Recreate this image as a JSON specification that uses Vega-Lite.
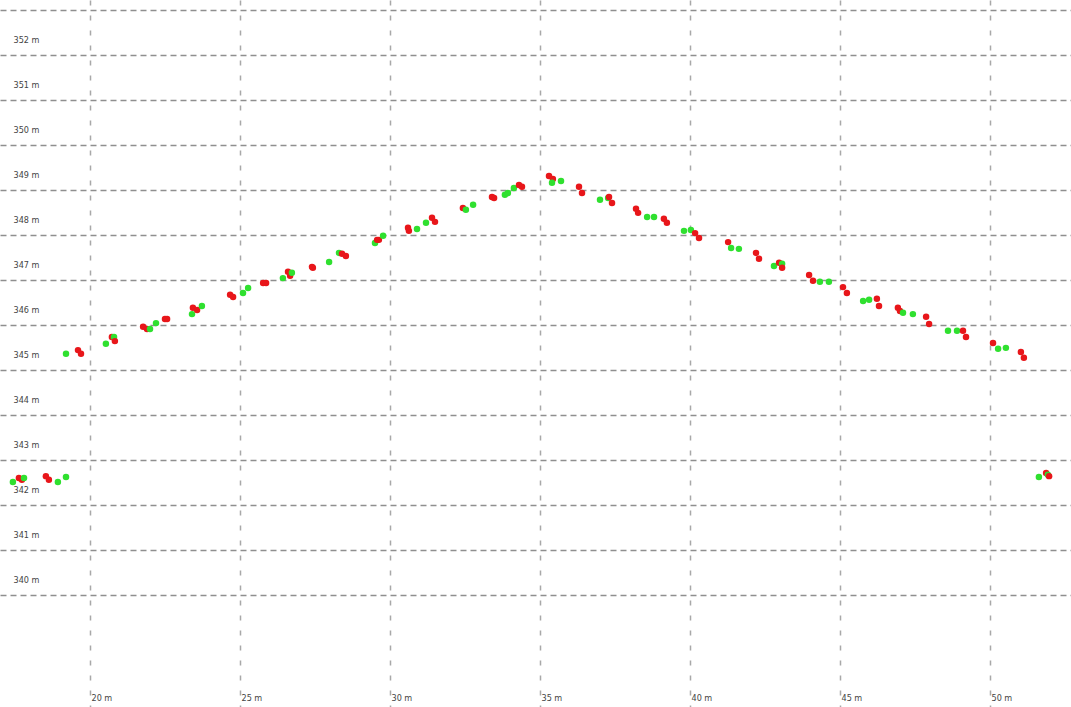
{
  "$schema": "https://vega.github.io/schema/vega-lite/v6.json",
  "autosize": {"type": "fit", "contains": "padding"},
  "width": 1071,
  "height": 707,
  "padding": 0,
  "background": "white",
  "config": {"view": {"stroke": null}},
  "data": {"values": [
    {"d": 17.43, "h": 342.51, "s": "g"},
    {"d": 17.63, "h": 342.60, "s": "r"},
    {"d": 17.73, "h": 342.56, "s": "r"},
    {"d": 17.80, "h": 342.60, "s": "g"},
    {"d": 18.53, "h": 342.64, "s": "r"},
    {"d": 18.63, "h": 342.56, "s": "r"},
    {"d": 18.93, "h": 342.51, "s": "g"},
    {"d": 19.20, "h": 342.62, "s": "g"},
    {"d": 19.20, "h": 345.36, "s": "g"},
    {"d": 19.60, "h": 345.44, "s": "r"},
    {"d": 19.70, "h": 345.36, "s": "r"},
    {"d": 20.53, "h": 345.58, "s": "g"},
    {"d": 20.73, "h": 345.73, "s": "r"},
    {"d": 20.80, "h": 345.73, "s": "g"},
    {"d": 20.83, "h": 345.64, "s": "r"},
    {"d": 21.77, "h": 345.96, "s": "r"},
    {"d": 21.90, "h": 345.91, "s": "r"},
    {"d": 22.00, "h": 345.91, "s": "g"},
    {"d": 22.20, "h": 346.04, "s": "g"},
    {"d": 22.50, "h": 346.13, "s": "r"},
    {"d": 22.57, "h": 346.13, "s": "r"},
    {"d": 23.40, "h": 346.24, "s": "g"},
    {"d": 23.43, "h": 346.38, "s": "r"},
    {"d": 23.57, "h": 346.33, "s": "r"},
    {"d": 23.73, "h": 346.42, "s": "g"},
    {"d": 24.67, "h": 346.67, "s": "r"},
    {"d": 24.77, "h": 346.62, "s": "r"},
    {"d": 25.10, "h": 346.71, "s": "g"},
    {"d": 25.27, "h": 346.82, "s": "g"},
    {"d": 25.77, "h": 346.93, "s": "r"},
    {"d": 25.87, "h": 346.93, "s": "r"},
    {"d": 26.43, "h": 347.04, "s": "g"},
    {"d": 26.60, "h": 347.18, "s": "r"},
    {"d": 26.67, "h": 347.09, "s": "r"},
    {"d": 26.73, "h": 347.16, "s": "g"},
    {"d": 27.40, "h": 347.29, "s": "r"},
    {"d": 27.43, "h": 347.27, "s": "r"},
    {"d": 27.97, "h": 347.40, "s": "g"},
    {"d": 28.30, "h": 347.60, "s": "g"},
    {"d": 28.40, "h": 347.58, "s": "r"},
    {"d": 28.53, "h": 347.53, "s": "r"},
    {"d": 29.50, "h": 347.82, "s": "g"},
    {"d": 29.57, "h": 347.89, "s": "r"},
    {"d": 29.63, "h": 347.89, "s": "r"},
    {"d": 29.77, "h": 347.98, "s": "g"},
    {"d": 30.60, "h": 348.16, "s": "r"},
    {"d": 30.63, "h": 348.09, "s": "r"},
    {"d": 30.90, "h": 348.13, "s": "g"},
    {"d": 31.20, "h": 348.27, "s": "g"},
    {"d": 31.40, "h": 348.38, "s": "r"},
    {"d": 31.50, "h": 348.29, "s": "r"},
    {"d": 32.43, "h": 348.60, "s": "r"},
    {"d": 32.53, "h": 348.56, "s": "g"},
    {"d": 32.77, "h": 348.67, "s": "g"},
    {"d": 33.40, "h": 348.84, "s": "r"},
    {"d": 33.47, "h": 348.82, "s": "r"},
    {"d": 33.83, "h": 348.89, "s": "g"},
    {"d": 33.93, "h": 348.93, "s": "g"},
    {"d": 34.13, "h": 349.04, "s": "g"},
    {"d": 34.30, "h": 349.11, "s": "r"},
    {"d": 34.40, "h": 349.07, "s": "r"},
    {"d": 35.30, "h": 349.31, "s": "r"},
    {"d": 35.43, "h": 349.24, "s": "r"},
    {"d": 35.40, "h": 349.16, "s": "g"},
    {"d": 35.70, "h": 349.20, "s": "g"},
    {"d": 36.30, "h": 349.07, "s": "r"},
    {"d": 36.40, "h": 348.93, "s": "r"},
    {"d": 37.00, "h": 348.78, "s": "g"},
    {"d": 37.27, "h": 348.82, "s": "g"},
    {"d": 37.30, "h": 348.84, "s": "r"},
    {"d": 37.40, "h": 348.71, "s": "r"},
    {"d": 38.20, "h": 348.58, "s": "r"},
    {"d": 38.27, "h": 348.49, "s": "r"},
    {"d": 38.57, "h": 348.40, "s": "g"},
    {"d": 38.80, "h": 348.40, "s": "g"},
    {"d": 39.13, "h": 348.36, "s": "r"},
    {"d": 39.23, "h": 348.27, "s": "r"},
    {"d": 39.80, "h": 348.09, "s": "g"},
    {"d": 40.03, "h": 348.11, "s": "g"},
    {"d": 40.17, "h": 348.04, "s": "r"},
    {"d": 40.30, "h": 347.93, "s": "r"},
    {"d": 41.27, "h": 347.84, "s": "r"},
    {"d": 41.37, "h": 347.71, "s": "g"},
    {"d": 41.63, "h": 347.69, "s": "g"},
    {"d": 42.20, "h": 347.60, "s": "r"},
    {"d": 42.30, "h": 347.47, "s": "r"},
    {"d": 42.80, "h": 347.31, "s": "g"},
    {"d": 42.97, "h": 347.38, "s": "r"},
    {"d": 43.07, "h": 347.36, "s": "g"},
    {"d": 43.07, "h": 347.27, "s": "r"},
    {"d": 43.97, "h": 347.11, "s": "r"},
    {"d": 44.10, "h": 346.98, "s": "r"},
    {"d": 44.33, "h": 346.96, "s": "g"},
    {"d": 44.63, "h": 346.96, "s": "g"},
    {"d": 45.10, "h": 346.84, "s": "r"},
    {"d": 45.23, "h": 346.71, "s": "r"},
    {"d": 45.77, "h": 346.53, "s": "g"},
    {"d": 45.97, "h": 346.56, "s": "g"},
    {"d": 46.23, "h": 346.58, "s": "r"},
    {"d": 46.30, "h": 346.42, "s": "r"},
    {"d": 46.93, "h": 346.38, "s": "r"},
    {"d": 47.00, "h": 346.31, "s": "r"},
    {"d": 47.10, "h": 346.27, "s": "g"},
    {"d": 47.43, "h": 346.24, "s": "g"},
    {"d": 47.87, "h": 346.18, "s": "r"},
    {"d": 47.97, "h": 346.02, "s": "r"},
    {"d": 48.60, "h": 345.87, "s": "g"},
    {"d": 48.90, "h": 345.87, "s": "g"},
    {"d": 49.10, "h": 345.87, "s": "r"},
    {"d": 49.20, "h": 345.73, "s": "r"},
    {"d": 50.10, "h": 345.60, "s": "r"},
    {"d": 50.27, "h": 345.47, "s": "g"},
    {"d": 50.53, "h": 345.49, "s": "g"},
    {"d": 51.03, "h": 345.40, "s": "r"},
    {"d": 51.13, "h": 345.27, "s": "r"},
    {"d": 51.63, "h": 342.62, "s": "g"},
    {"d": 51.87, "h": 342.71, "s": "r"},
    {"d": 51.93, "h": 342.67, "s": "g"},
    {"d": 51.97, "h": 342.64, "s": "r"}
  ]},
  "mark": {"type": "circle", "size": 42, "opacity": 1},
  "encoding": {
    "x": {
      "field": "d", "type": "quantitative",
      "scale": {"domain": [17, 52.7], "nice": false, "zero": false},
      "axis": {
        "title": null,
        "values": [20, 25, 30, 35, 40, 45, 50],
        "domain": false, "ticks": false,
        "grid": true, "gridColor": "#a8a8a8", "gridDash": [5, 10], "gridWidth": 1.5,
        "labelExpr": "datum.value + ' m'",
        "labelAlign": "left", "labelBaseline": "middle",
        "labelPadding": -10, "labelOffset": 1,
        "labelFont": "DejaVu Sans Condensed, Liberation Sans Narrow, DejaVu Sans, sans-serif", "labelFontSize": 9, "labelColor": "#444444",
        "labelFlush": false
      }
    },
    "y": {
      "field": "h", "type": "quantitative",
      "scale": {"domain": [337.51, 353.22], "nice": false, "zero": false},
      "axis": {
        "title": null,
        "values": [340, 341, 342, 343, 344, 345, 346, 347, 348, 349, 350, 351, 352, 353],
        "domain": false, "ticks": false,
        "grid": true, "gridColor": "#8f8f8f", "gridDash": [6, 4], "gridWidth": 1.6,
        "labelExpr": "datum.value == 353 ? '' : datum.value + ' m'",
        "labelAlign": "left", "labelBaseline": "middle",
        "labelPadding": -13, "labelOffset": -15,
        "labelFont": "DejaVu Sans Condensed, Liberation Sans Narrow, DejaVu Sans, sans-serif", "labelFontSize": 9, "labelColor": "#444444",
        "labelFlush": false
      }
    },
    "color": {
      "field": "s", "type": "nominal", "legend": null,
      "scale": {"domain": ["r", "g"], "range": ["#e8161a", "#2fe02f"]}
    }
  }
}
